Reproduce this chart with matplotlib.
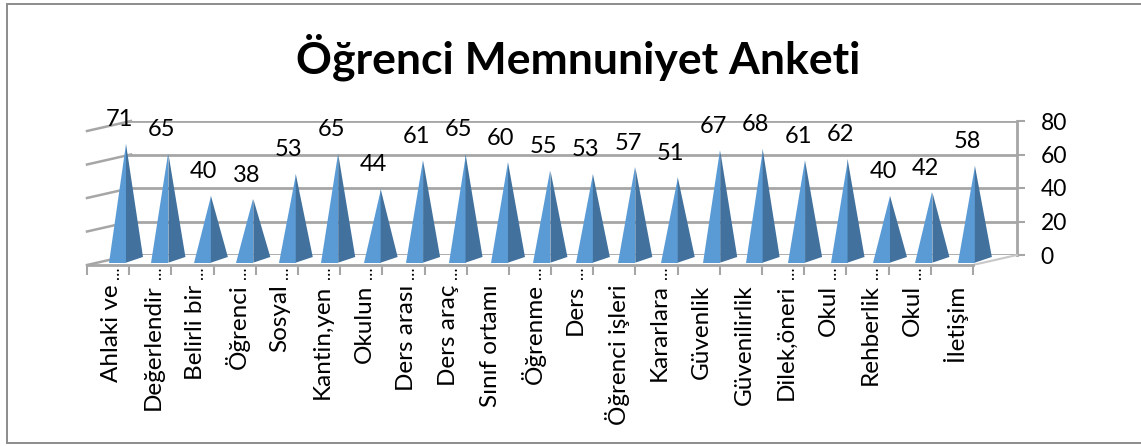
import matplotlib
matplotlib.use("Agg")
import matplotlib.pyplot as plt
from matplotlib.patches import Polygon, Rectangle

plt.rcParams["font.family"] = ["Lato", "DejaVu Sans"]

W, H = 1141, 446

title = "Öğrenci Memnuniyet Anketi"
categories = [
    "Ahlaki ve…", "Değerlendir …", "Belirli bir…", "Öğrenci…", "Sosyal…",
    "Kantin,yen…", "Okulun…", "Ders arası…", "Ders araç…", "Sınıf ortamı",
    "Öğrenme…", "Ders…", "Öğrenci işleri", "Kararlara…", "Güvenlik",
    "Güvenilirlik", "Dilek,öneri…", "Okul…", "Rehberlik…", "Okul…", "İletişim",
]
values = [71, 65, 40, 38, 53, 65, 44, 61, 65, 60, 55, 53, 57, 51, 67, 68, 61, 62, 40, 42, 58]
y_ticks = [0, 20, 40, 60, 80]

GRID = "#a6a6a6"
LEFT_FACE = "#5b9bd5"
RIGHT_FACE = "#41719c"

# pixel layout of the fake 3d box
PX_CAT = 42.2
PX_VAL = 1.675
DEPTH_X = 44 / PX_CAT
DEPTH_Y = 10 / PX_VAL


def px_axes(fig, left, top, width, height):
    return fig.add_axes([left / W, 1 - (top + height) / H, width / W, height / H])


fig = plt.figure(figsize=(W / 100, H / 100), dpi=100)
fig.add_artist(Rectangle((7 / W, 3 / H), (W - 6) / W, (H - 7) / H, transform=fig.transFigure,
                         fill=False, edgecolor="#8c8c8c", linewidth=1.4))
fig.text(578 / W, 1 - 57 / H, title, ha="center", va="center", fontsize=32, fontweight="bold", color="black")

# back wall, holds the grid and the value axis
back = px_axes(fig, 127, 121, 890, 134)
back.set_ylim(0, 80)
back.set_xlim(0, 1)
back.set_xticks([])
back.set_yticks(y_ticks)
back.yaxis.tick_right()
back.tick_params(axis="y", length=6, width=1.5, color=GRID, labelsize=16.5, pad=11)
back.grid(axis="y", color=GRID, linewidth=2)
back.set_axisbelow(True)
for name, spine in back.spines.items():
    spine.set_visible(name == "right")
spine = back.spines["right"]
spine.set_color(GRID)
spine.set_linewidth(2)
back.patch.set_alpha(0)

# front plane, holds categories and cones
ax = px_axes(fig, 87, 131, 886, 134)
ax.set_xlim(0, len(categories))
ax.set_ylim(0, 80)
ax.patch.set_alpha(0)
ax.set_yticks([])
for name, spine in ax.spines.items():
    spine.set_visible(name == "bottom")
ax.spines["bottom"].set_color(GRID)
ax.spines["bottom"].set_linewidth(2)
ax.set_xticks(range(len(categories) + 1))
ax.set_xticklabels([])
# the ellipsis sits apart from the text in the original, so it is drawn on its own
short_labels = [c.rstrip("… ") for c in categories]
ax.set_xticks([i + 0.57 for i in range(len(categories))], labels=short_labels, minor=True, rotation=90)
ax.tick_params(axis="x", which="major", length=7, width=1.5, color=GRID)
ax.tick_params(axis="x", which="minor", length=0, pad=14, labelsize=17.5)
for i, c in enumerate(categories):
    if c.endswith("…"):
        ax.annotate("…", (i + 0.5, 0), xytext=(6, -2), textcoords="offset pixels", rotation=90,
                    ha="center", va="top", fontsize=12, annotation_clip=False)

# left wall and floor edges
for tick in y_ticks:
    ax.plot([0, DEPTH_X], [tick, tick + DEPTH_Y], color=GRID, linewidth=1.8, clip_on=False)
ax.plot([len(categories), len(categories) + DEPTH_X], [0, DEPTH_Y], color="#c8c8c8", linewidth=1.5, clip_on=False)

# cones
for i, value in enumerate(values):
    cx = 0.924 + i * 1.006
    base_y = 1.4
    half = 17 / PX_CAT
    apex = (cx, value + base_y)
    ax.add_patch(Polygon([(cx - half, base_y), (cx, base_y), apex], closed=True,
                         facecolor=LEFT_FACE, edgecolor="none", clip_on=False, zorder=3))
    ax.add_patch(Polygon([(cx, base_y), (cx + half, base_y + 3.4), apex], closed=True,
                         facecolor=RIGHT_FACE, edgecolor="none", clip_on=False, zorder=3))
    ax.annotate(str(value), apex, xytext=(-7, 24), textcoords="offset pixels", ha="center", va="center",
                fontsize=17, color="black", annotation_clip=False, zorder=4)

fig.savefig("out.png", dpi=100, facecolor="white")
